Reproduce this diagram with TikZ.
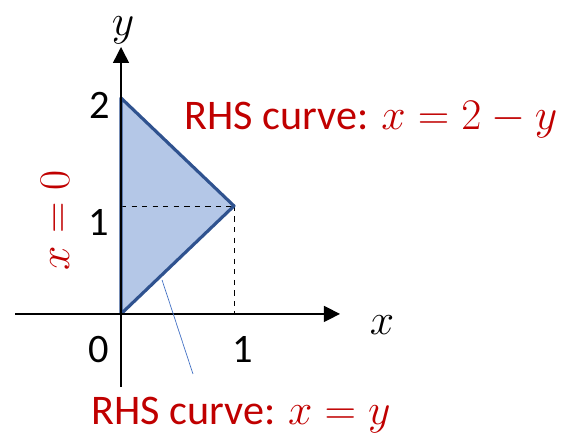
\documentclass[tikz,border=0pt]{standalone}
\usepackage{amsmath,amssymb}
\usepackage{fontspec}
\setmainfont{Carlito}
\usepackage{tikz}
\usetikzlibrary{arrows.meta}

\definecolor{regfill}{HTML}{B4C7E7}
\definecolor{regedge}{HTML}{2F528F}
\definecolor{curvered}{HTML}{C00000}
\definecolor{pointer}{HTML}{4472C4}

\begin{document}
\begin{tikzpicture}[
            x=2.26cm, y=2.16cm,
            axis/.style={
                thick,
                -{Triangle[length=3.2mm,width=3.2mm]}
            },
            tick/.style={
                font=\fontsize{23}{27}\selectfont
            },
            axis label/.style={
                inner sep=0pt,
                font=\fontsize{25}{30}\selectfont
            },
            curve label/.style={
                text=curvered,
                font=\fontsize{24}{29}\selectfont
            }
        ]
        \useasboundingbox (-1.071,-1.167) rectangle (3.956,2.907);

        \coordinate (O) at (0,0);
        \coordinate (top) at (0,2);
        \coordinate (tip) at (1,1);

        % region between x=0 and the two curves
        \fill[regfill] (O) -- (top) -- (tip) -- cycle;
        \draw[dashed, thin] (0,1) -- (tip);
        \draw[dashed, thin] (tip) -- (1,0);
        \draw[regedge, line width=1.8pt, line join=round] (O) -- (top) -- (tip) -- cycle;

        % axes
        \node (xend) at (1.938,0) {};
        \node (yend) at (0,2.472) {};
        \coordinate (xstart) at (-0.938,0);
        \coordinate (ystart) at (0,-0.676);
        \draw[axis] (xstart) -- (xend.center);
        \draw[axis] (ystart) -- (yend.center);

        \node[axis label] (xlabel) at (2.31,-0.10) {$x$};
        \node[axis label] (ylabel) at (0.018,2.63) {$y$};

        \node[tick] (two) at (-0.19,1.93) {2};
        \node[tick] (oney) at (-0.2,0.85) {1};
        \node[tick] (zero) at (-0.2,-0.33) {0};
        \node[tick] (onex) at (1.08,-0.33) {1};

        \node[curve label] (upper) at (2.212,1.796) {RHS curve: $x = 2 - y$};
        \node[curve label] (lower) at (1.062,-0.935) {RHS curve: $x = y$};
        \node[curve label, rotate=90] (left) at (-0.584,0.87) {$x = 0$};

        \coordinate (ptr start) at (0.363,0.315);
        \coordinate (ptr end) at (0.637,-0.556);
        \draw[pointer, thin] (ptr start) -- (ptr end);

    \end{tikzpicture}
\end{document}
